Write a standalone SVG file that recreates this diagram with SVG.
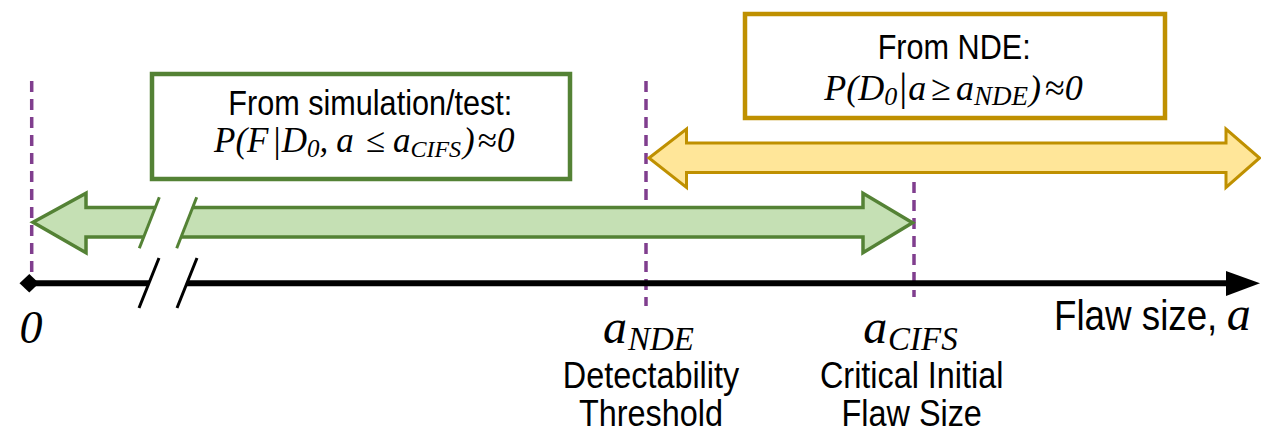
<svg xmlns="http://www.w3.org/2000/svg" width="1261" height="431" viewBox="0 0 1261 431">
  <style>
    .sans { font-family: "Liberation Sans", Arial, Helvetica, sans-serif; font-size: 35px; fill: #000; }
    .lbl { font-size: 37px; }
    .big { font-size: 42px; }
    .math { font-family: "Liberation Serif", "Times New Roman", serif; font-style: italic; fill: #000; }
    .up { font-style: normal; }
    .guide { stroke: #803e8e; stroke-width: 3.5; stroke-dasharray: 11 7; fill: none; }
    .green { fill: #c5e0b4; stroke: #548235; stroke-width: 3.5; stroke-linejoin: miter; }
    .yellow { fill: #ffe699; stroke: #bf9000; stroke-width: 3; stroke-linejoin: miter; }
    .gbox { fill: #fff; stroke: #548235; stroke-width: 4.5; }
    .ybox { fill: #fff; stroke: #bf9000; stroke-width: 4.5; }
    .cut { fill: #fff; stroke: none; }
  </style>

  <rect width="1261" height="431" fill="#fff"/>

  <!-- dashed guides at 0, a_NDE and a_CIFS -->
  <g id="guides">
    <line class="guide" x1="31.7" y1="81" x2="31.7" y2="280"/>
    <line class="guide" x1="646" y1="81" x2="646" y2="306"/>
    <line class="guide" x1="914" y1="182" x2="914" y2="297"/>
  </g>

  <!-- range arrows -->
  <g id="connectors">
    <!-- NDE range: a >= a_NDE -->
    <polygon class="yellow" points="649,158 686.5,129 686.5,143 1226,143 1226,129 1259.5,158 1226,187.5 1226,172.5 686.5,172.5 686.5,187.5"/>
    <!-- simulation/test range: 0 .. a_CIFS, with axis break -->
    <polygon class="green" points="33,222.3 86,193.3 86,207.5 863,207.5 863,193.3 912.5,222.8 863,252.7 863,237 86,237 86,252.7"/>
    <polygon class="cut" points="157.2,203 194.6,203 180.4,241 143,241"/>
    <line x1="139.3" y1="248.3" x2="159.3" y2="197.3" stroke="#548235" stroke-width="3"/>
    <line x1="176.7" y1="248.3" x2="196.7" y2="197.3" stroke="#548235" stroke-width="3"/>
  </g>

  <!-- flaw size axis -->
  <g id="axis">
    <line x1="29" y1="283.3" x2="1230" y2="283.3" stroke="#000" stroke-width="6"/>
    <polygon points="1226,271 1260,283.3 1226,296" fill="#000"/>
    <polygon points="19.5,283.3 29.3,274 39,283.3 29.3,292.5" fill="#000"/>
    <polygon class="cut" points="151.2,277 189.2,277 185.2,290 147.2,290"/>
    <line x1="139" y1="308" x2="159" y2="258" stroke="#000" stroke-width="3"/>
    <line x1="177" y1="308" x2="197" y2="258" stroke="#000" stroke-width="3"/>
    <text class="math" x="31" y="342.7" font-size="46" text-anchor="middle">0</text>
    <text class="sans big" transform="translate(1054 330) scale(0.875 1)">Flaw size,</text>
    <text class="math" x="1226.7" y="330" font-size="48">a</text>
  </g>

  <!-- evidence from simulation/test -->
  <g id="box-sim">
    <rect class="gbox" x="152" y="74" width="418" height="105"/>
    <text class="sans" transform="translate(370.3 115) scale(0.875 1)" text-anchor="middle">From simulation/test:</text>
    <text class="math" x="214" y="151.7" font-size="35">P(F<tspan class="up" font-size="36" dx="5">|</tspan><tspan dx="1">D</tspan><tspan font-size="25" dy="5">0</tspan><tspan dy="-5">,</tspan><tspan dx="8">a</tspan><tspan class="up" dx="12">≤</tspan><tspan dx="8">a</tspan><tspan font-size="24" dy="5">CIFS</tspan><tspan dy="-5" dx="2">)</tspan><tspan class="up" dx="3">≈</tspan>0</text>
  </g>

  <!-- evidence from NDE -->
  <g id="box-nde">
    <rect class="ybox" x="745" y="14" width="420" height="104"/>
    <text class="sans" transform="translate(954.2 59.3) scale(0.875 1)" text-anchor="middle">From NDE:</text>
    <text class="math" x="824.3" y="100" font-size="36">P(D<tspan font-size="26" dy="5">0</tspan><tspan class="up" font-size="40" dy="-5" dx="2">|</tspan><tspan dx="1">a</tspan><tspan class="up" dx="5">≥</tspan><tspan dx="5">a</tspan><tspan font-size="27" dy="5">NDE</tspan><tspan dy="-5" dx="1">)</tspan><tspan class="up" dx="4">≈</tspan>0</text>
  </g>

  <!-- threshold labels -->
  <g id="label-nde">
    <text class="math" y="343.3"><tspan x="603" font-size="48">a</tspan><tspan x="628" y="350" font-size="33">NDE</tspan></text>
    <text class="sans lbl" transform="translate(651 388) scale(0.875 1)" text-anchor="middle">Detectability</text>
    <text class="sans lbl" transform="translate(651 425.5) scale(0.875 1)" text-anchor="middle">Threshold</text>
  </g>
  <g id="label-cifs">
    <text class="math" y="343.3"><tspan x="863.3" font-size="48">a</tspan><tspan x="888" y="350" font-size="33">CIFS</tspan></text>
    <text class="sans lbl" transform="translate(911.7 388) scale(0.875 1)" text-anchor="middle">Critical Initial</text>
    <text class="sans lbl" transform="translate(911.7 425.5) scale(0.875 1)" text-anchor="middle">Flaw Size</text>
  </g>
</svg>
